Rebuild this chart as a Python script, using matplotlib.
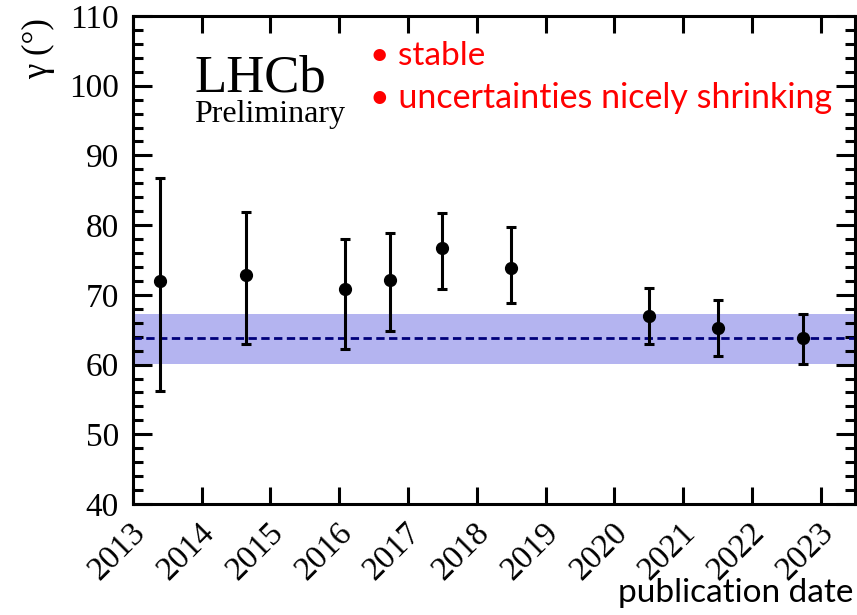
import matplotlib
matplotlib.use("Agg")
import matplotlib.pyplot as plt
import matplotlib.transforms as mtransforms
from matplotlib.ticker import MultipleLocator

# gamma measurements vs publication date
pub_date = [2013.40, 2014.65, 2016.08, 2016.74, 2017.49, 2018.50, 2020.50, 2021.51, 2022.75]
gamma = [72.0, 72.8, 70.8, 72.1, 76.7, 73.9, 67.0, 65.3, 63.8]
err_up = [14.8, 9.1, 7.2, 6.7, 5.0, 5.8, 4.0, 3.9, 3.5]
err_down = [15.8, 9.9, 8.5, 7.3, 5.8, 5.0, 4.1, 4.0, 3.7]

# latest combination shown as a band
gamma_comb = 63.8
comb_up = 3.4
comb_down = 3.7

years = list(range(2013, 2024))
yticks = list(range(40, 111, 10))

serif = ["Liberation Serif", "DejaVu Serif"]
plt.rcParams["font.family"] = serif

fig = plt.figure(figsize=(8.57, 6.15), dpi=100)
ax = fig.add_axes([0.155, 0.1805, 0.8427, 0.7935])

ax.axhspan(gamma_comb - comb_down, gamma_comb + comb_up, color="#b4b4f0", lw=0, zorder=1)
ax.axhline(gamma_comb, color="#00007a", lw=2.0, dashes=(3, 1.6), zorder=2)

ax.errorbar(pub_date, gamma, yerr=[err_down, err_up], fmt="o", color="black",
            ms=8.5, elinewidth=2.2, capsize=3.5, capthick=2.2, zorder=3)

ax.set_xlim(2013, 2023.5)
ax.set_ylim(40, 110)
ax.set_xticks(years)
ax.set_yticks(yticks, [str(v) for v in yticks])
ax.yaxis.set_minor_locator(MultipleLocator(2))

for s in ax.spines.values():
    s.set_linewidth(2.2)

ax.tick_params(axis="both", which="both", direction="in", width=2.2,
               top=True, right=True)
ax.tick_params(axis="y", which="major", length=14, pad=10, labelsize=24)
ax.tick_params(axis="y", which="minor", length=7)
ax.tick_params(axis="x", which="major", length=12, labelbottom=False)

# slanted year labels, nudged right so their ends sit past the tick
year_tf = ax.get_xaxis_transform() + mtransforms.ScaledTranslation(
    19 / 100, -13 / 100, fig.dpi_scale_trans)
for y in years:
    ax.text(y, 0, str(y), transform=year_tf, rotation=45, ha="right", va="top",
            fontsize=24, clip_on=False)

fig.text(39 / 857, 1 - 49 / 615, "γ (°)", rotation=90, fontsize=25,
         ha="center", va="center")

ax.text(0.085, 0.845, "LHCb", transform=ax.transAxes, fontsize=38, va="baseline")
ax.text(0.085, 0.783, "Preliminary", transform=ax.transAxes, fontsize=23, va="baseline")

fig.text(370 / 857, 1 - 65 / 615, "• stable", color="red", family="Lato",
         fontsize=24, va="baseline")
fig.text(370 / 857, 1 - 108 / 615, "• uncertainties nicely shrinking", color="red",
         family="Lato", fontsize=24.5, va="baseline")
fig.text(853 / 857, 1 - 602 / 615, "publication date", color="black", family="Lato",
         fontsize=24, ha="right", va="baseline")

fig.savefig("out.png", dpi=100)
